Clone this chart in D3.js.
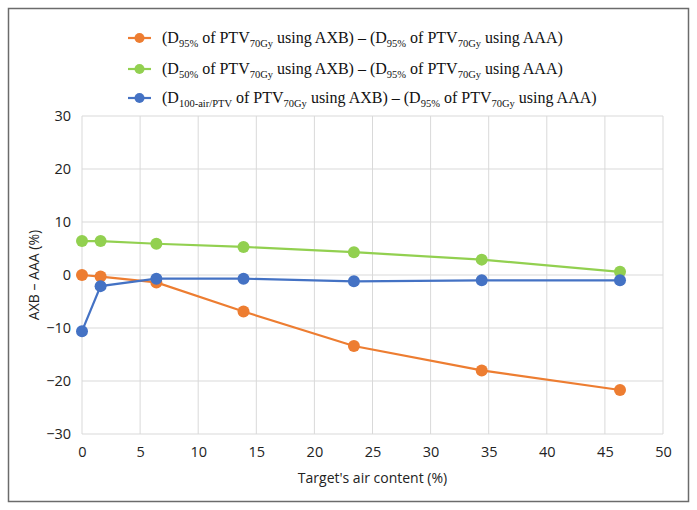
<!DOCTYPE html>
<html><head><meta charset="utf-8">
<script src="https://cdn.jsdelivr.net/npm/d3@7/dist/d3.min.js"></script>
<style>body{margin:0;background:#fff}svg{display:block}</style>
</head><body><div id="chart"></div>
<script>
const airContent = [0, 1.6, 6.4, 13.9, 23.4, 34.4, 46.3];
const d95Diff = [0, -0.3, -1.4, -6.9, -13.4, -18.0, -21.7];
const d50Diff = [6.4, 6.4, 5.9, 5.3, 4.3, 2.9, 0.6];
const d100Diff = [-10.6, -2.1, -0.7, -0.7, -1.2, -1.0, -1.0];
const xTicks = [0, 5, 10, 15, 20, 25, 30, 35, 40, 45, 50];
const yTicks = [-30, -20, -10, 0, 10, 20, 30];
const seriesNames = [
  [["(D",""],["95%","sub"],[" of PTV",""],["70Gy","sub"],[" using AXB) – (D",""],["95%","sub"],[" of PTV",""],["70Gy","sub"],[" using AAA)",""]],
  [["(D",""],["50%","sub"],[" of PTV",""],["70Gy","sub"],[" using AXB) – (D",""],["95%","sub"],[" of PTV",""],["70Gy","sub"],[" using AAA)",""]],
  [["(D",""],["100-air/PTV","sub"],[" of PTV",""],["70Gy","sub"],[" using AXB) – (D",""],["95%","sub"],[" of PTV",""],["70Gy","sub"],[" using AAA)",""]]
];
const colors = ["#ED7D31", "#92D050", "#4472C4"];
const series = [d95Diff, d50Diff, d100Diff];

const W = 697, H = 510;
const svg = d3.select("#chart").append("svg").attr("width", W).attr("height", H);
svg.append("rect").attr("x", 8.5).attr("y", 8.5).attr("width", 680).attr("height", 493)
  .attr("fill", "#fff").attr("stroke", "#6b6b6b").attr("stroke-width", 1.5);

const m = {l: 82, r: 663, t: 116, b: 434};
const x = d3.scaleLinear().domain([0, 50]).range([m.l, m.r]);
const y = d3.scaleLinear().domain([-30, 30]).range([m.b, m.t]);

const grid = svg.append("g");
grid.selectAll(".gx").data(xTicks).join("line")
  .attr("x1", d => x(d)).attr("x2", d => x(d)).attr("y1", m.t).attr("y2", m.b)
  .attr("stroke", "#d9d9d9").attr("stroke-width", 1);
grid.selectAll(".gy").data(yTicks).join("line")
  .attr("x1", m.l).attr("x2", m.r).attr("y1", d => y(d)).attr("y2", d => y(d))
  .attr("stroke", "#d9d9d9").attr("stroke-width", 1);

const fmt = d => d < 0 ? "\u2212" + Math.abs(d) : String(d);
const tickFont = "'Open Sans', sans-serif";
const xAxis = svg.append("g").attr("transform", `translate(0,${m.b})`)
  .call(d3.axisBottom(x).tickValues(xTicks).tickFormat(fmt).tickSize(0).tickPadding(13));
const yAxis = svg.append("g").attr("transform", `translate(${m.l},0)`)
  .call(d3.axisLeft(y).tickValues(yTicks).tickFormat(fmt).tickSize(0).tickPadding(11));
[xAxis, yAxis].forEach(a => {
  a.select(".domain").remove();
  a.selectAll("text").attr("font-family", tickFont).attr("font-size", 14.5).attr("fill", "#222");
});

svg.append("text").attr("x", (m.l + m.r) / 2).attr("y", 483).attr("text-anchor", "middle")
  .attr("font-family", tickFont).attr("font-size", 14).attr("fill", "#222")
  .text("Target's air content (%)");
svg.append("text").attr("transform", `translate(39,${y(0)}) rotate(-90)`).attr("text-anchor", "middle")
  .attr("font-family", tickFont).attr("font-size", 14).attr("fill", "#222")
  .text("AXB \u2013 AAA (%)");

const line = d3.line().x((d, i) => x(airContent[i])).y(d => y(d));
series.forEach((s, k) => {
  svg.append("path").datum(s).attr("d", line).attr("fill", "none")
    .attr("stroke", colors[k]).attr("stroke-width", 2.2);
});
series.forEach((s, k) => {
  svg.append("g").selectAll("circle").data(s).join("circle")
    .attr("cx", (d, i) => x(airContent[i])).attr("cy", d => y(d)).attr("r", 6)
    .attr("fill", colors[k]);
});

const legendY = [38, 69, 98];
seriesNames.forEach((parts, k) => {
  const g = svg.append("g").attr("transform", `translate(0,${legendY[k]})`);
  g.append("line").attr("x1", 128).attr("x2", 151).attr("y1", 0).attr("y2", 0)
    .attr("stroke", colors[k]).attr("stroke-width", 2.2);
  g.append("circle").attr("cx", 139.5).attr("cy", 0).attr("r", 5).attr("fill", colors[k]);
  const t = g.append("text").attr("x", 162).attr("y", 5)
    .attr("font-family", "'Liberation Serif', 'Times New Roman', serif").attr("font-size", 16).attr("fill", "#111");
  let prevSub = false;
  parts.forEach(([txt, kind]) => {
    const ts = t.append("tspan").text(txt);
    if (kind === "sub") {
      ts.attr("font-size", 10.5).attr("dy", prevSub ? 0 : 4);
      prevSub = true;
    } else {
      if (prevSub) ts.attr("dy", -4);
      prevSub = false;
    }
  });
});
</script></body></html>
